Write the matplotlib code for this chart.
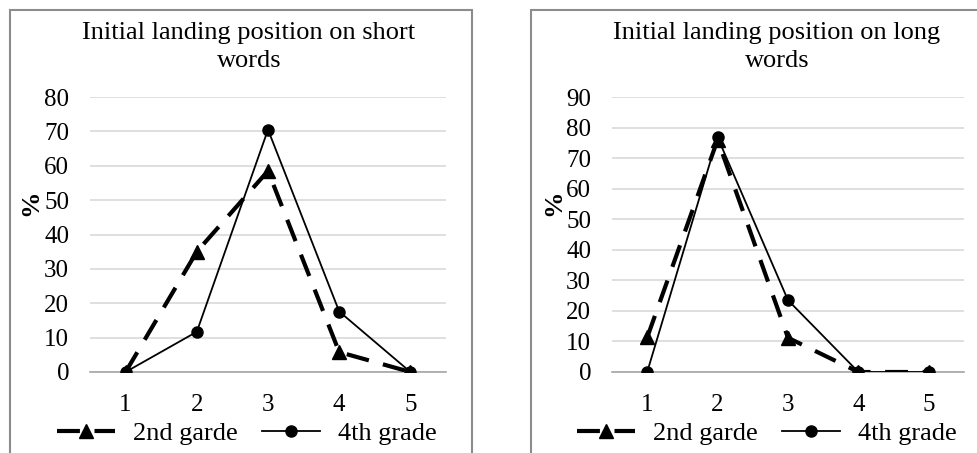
import matplotlib
matplotlib.use("Agg")
import matplotlib.pyplot as plt
from matplotlib.patches import Rectangle

# data
positions = [1, 2, 3, 4, 5]
short_2nd = [0, 35, 58.5, 5.8, 0]
short_4th = [0, 11.7, 70.5, 17.6, 0]
long_2nd = [11.3, 76, 11.2, 0, 0]
long_4th = [0, 76.8, 23.5, 0, 0]

titles = ["Initial landing position on short\nwords",
          "Initial landing position on long\nwords"]
ymax = [80, 90]
series_names = ["2nd garde", "4th grade"]

plt.rcParams['font.family'] = ['Liberation Serif', 'DejaVu Serif']

W, H = 978, 453
fig = plt.figure(figsize=(W / 100, H / 100), dpi=100)

def px_axes(x0, x1, ytop, ybot):
    return fig.add_axes([x0 / W, 1 - ybot / H, (x1 - x0) / W, (ybot - ytop) / H])

# chart frames
fig.patches.append(Rectangle((10 / W, -0.05), 462 / W, 1 - 10 / H + 0.05,
                             transform=fig.transFigure, fill=False,
                             edgecolor='#8c8c8c', linewidth=1.5))
fig.patches.append(Rectangle((531 / W, -0.05), 470 / W, 1 - 10 / H + 0.05,
                             transform=fig.transFigure, fill=False,
                             edgecolor='#8c8c8c', linewidth=1.5))

axes = [px_axes(90, 446, 97, 372), px_axes(612, 964, 97, 372)]
data = [(short_2nd, short_4th), (long_2nd, long_4th)]
title_x = [249, 777]
ylab_x = [31, 554]
legend_x = [247, 767]

for i, ax in enumerate(axes):
    s2, s4 = data[i]
    ax.plot(positions, s2, color='black', linestyle=(0, (5.5, 3.5)), linewidth=3,
            marker='^', markersize=10, label=series_names[0], zorder=3)
    ax.plot(positions, s4, color='black', linestyle='-', linewidth=1.3,
            marker='o', markersize=8, label=series_names[1], zorder=4)
    ax.set_xlim(0.5, 5.5)
    ax.set_ylim(0, ymax[i])
    ax.set_yticks(range(0, ymax[i] + 1, 10))
    ax.set_xticks(positions)
    ax.yaxis.grid(True, color='#d9d9d9', linewidth=1.2)
    ax.set_axisbelow(True)
    for s in ['top', 'right', 'left']:
        ax.spines[s].set_visible(False)
    ax.spines['bottom'].set_color('#a6a6a6')
    ax.spines['bottom'].set_linewidth(1.2)
    ax.spines['bottom'].set_zorder(2)
    ax.tick_params(axis='both', length=0, labelsize=18, colors='black')
    ax.tick_params(axis='y', pad=15)
    ax.tick_params(axis='x', pad=16)
    ax.patch.set_alpha(0)
    fig.text(title_x[i] / W, 1 - 47 / H, titles[i], ha='center', va='center',
             fontsize=19, linespacing=1.3)
    fig.text(ylab_x[i] / W, 1 - 203 / H, '%', rotation=90, ha='center',
             va='center', fontsize=19, fontweight='bold')
    ax.legend(loc='center', bbox_to_anchor=(legend_x[i] / W, 1 - 433 / H),
              bbox_transform=fig.transFigure,
              ncol=2, frameon=False, fontsize=19, handlelength=2.2,
              handletextpad=0.7, columnspacing=0.9, borderaxespad=0,
              borderpad=0)

fig.savefig("out.png", dpi=100)
